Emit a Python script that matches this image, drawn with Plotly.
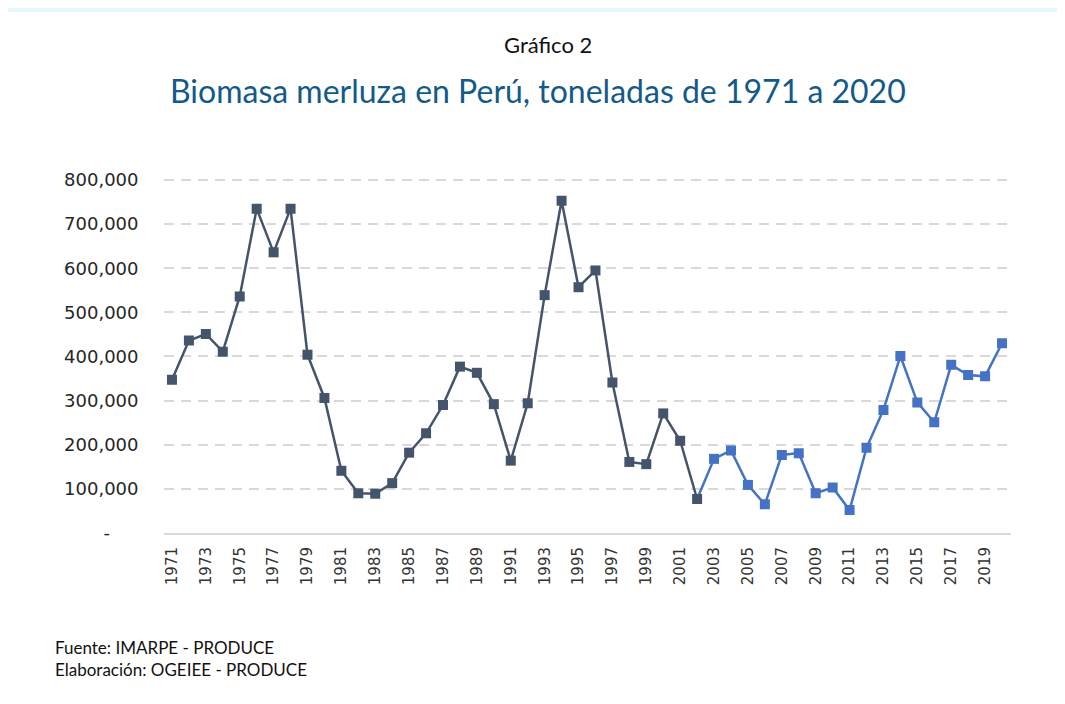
import plotly.graph_objects as go

# Biomasa de merluza (toneladas)
years = list(range(1971, 2021))
biomass = [
    347000, 436000, 451000, 411000, 536000, 735000, 636000, 735000, 404000, 306000,
    141000, 90000, 89000, 113000, 182000, 226000, 290000, 377000, 363000, 292000,
    164000, 294000, 539000, 753000, 557000, 595000, 341000, 161000, 156000, 271000,
    209000, 77000, 168000, 187000, 109000, 65000, 177000, 181000, 90000, 103000,
    52000, 193000, 279000, 401000, 296000, 251000, 381000, 358000, 355000, 430000,
]
split_year = 2002  # a partir de aquí la serie cambia a azul

y_ticks = [0, 100000, 200000, 300000, 400000, 500000, 600000, 700000, 800000]
y_ticktext = ["-     "] + [f"{v:,}" for v in y_ticks[1:]]
x_ticks = list(range(1971, 2020, 2))

DARK = "#44546A"
BLUE = "#4472C4"
# the page body adds an 8px margin, so the figure is 16px smaller than the window
W, H = 1049, 688
OFF = 8


def px_x(x):
    return (x - OFF) / W


def px_y(y):
    return 1 - (y - OFF) / H


i = years.index(split_year)

fig = go.Figure()
# tramo reciente (azul), la línea parte desde 2002
fig.add_trace(go.Scatter(
    x=years[i:], y=biomass[i:], mode="lines",
    line=dict(color=BLUE, width=2.5), hoverinfo="skip", showlegend=False,
))
fig.add_trace(go.Scatter(
    x=years[i + 1:], y=biomass[i + 1:], mode="markers",
    marker=dict(symbol="square", size=10, color=BLUE), showlegend=False,
))
# tramo histórico (gris azulado)
fig.add_trace(go.Scatter(
    x=years[:i + 1], y=biomass[:i + 1], mode="lines+markers",
    line=dict(color=DARK, width=2.5),
    marker=dict(symbol="square", size=10, color=DARK), showlegend=False,
))

fig.update_layout(
    width=W, height=H,
    margin=dict(l=0, r=0, t=0, b=0, autoexpand=False),
    paper_bgcolor="#E5F6FD",
    plot_bgcolor="white",
    font=dict(family="DejaVu Sans", color="#333333"),
    xaxis=dict(
        domain=[px_x(163.5), px_x(1010.5)],
        range=[1970.5, 2020.5],
        tickvals=x_ticks, tickangle=-90,
        tickfont=dict(size=15, color="#333333"),
        showgrid=False, zeroline=False, automargin=False,
        showline=True, linecolor="#D9D9D9", linewidth=2,
        ticks="", ticklabelstandoff=6,
    ),
    yaxis=dict(
        # a little headroom so the 800,000 gridline is drawn
        domain=[px_y(533), px_y(178.2)],
        range=[0, 804000],
        tickvals=y_ticks, ticktext=y_ticktext,
        tickfont=dict(size=18, color="#262626"),
        showgrid=True, gridcolor="#D9D9D9", gridwidth=2, griddash="10px,7px",
        zeroline=False, showline=False, ticks="", ticklabelstandoff=24,
        automargin=False,
    ),
    shapes=[dict(
        type="rect", xref="paper", yref="paper", layer="below",
        x0=0, x1=1, y0=0, y1=px_y(12),
        fillcolor="white", line=dict(width=0),
    )],
    annotations=[
        dict(text="Gráfico 2", x=px_x(548), y=px_y(45), xref="paper", yref="paper",
             xanchor="center", yanchor="middle", showarrow=False,
             font=dict(family="Lato", size=22, color="#111111")),
        dict(text="Biomasa merluza en Perú, toneladas de 1971 a 2020",
             x=px_x(538), y=px_y(90), xref="paper", yref="paper",
             xanchor="center", yanchor="middle", showarrow=False,
             font=dict(family="Lato", size=32, color="#135A8A")),
        dict(text="Fuente: IMARPE - PRODUCE<br>Elaboración: OGEIEE - PRODUCE",
             x=px_x(53), y=px_y(658), xref="paper", yref="paper",
             xanchor="left", yanchor="middle", align="left", showarrow=False,
             font=dict(family="Lato", size=17, color="#111111")),
    ],
)

fig.write_html("out.html")
